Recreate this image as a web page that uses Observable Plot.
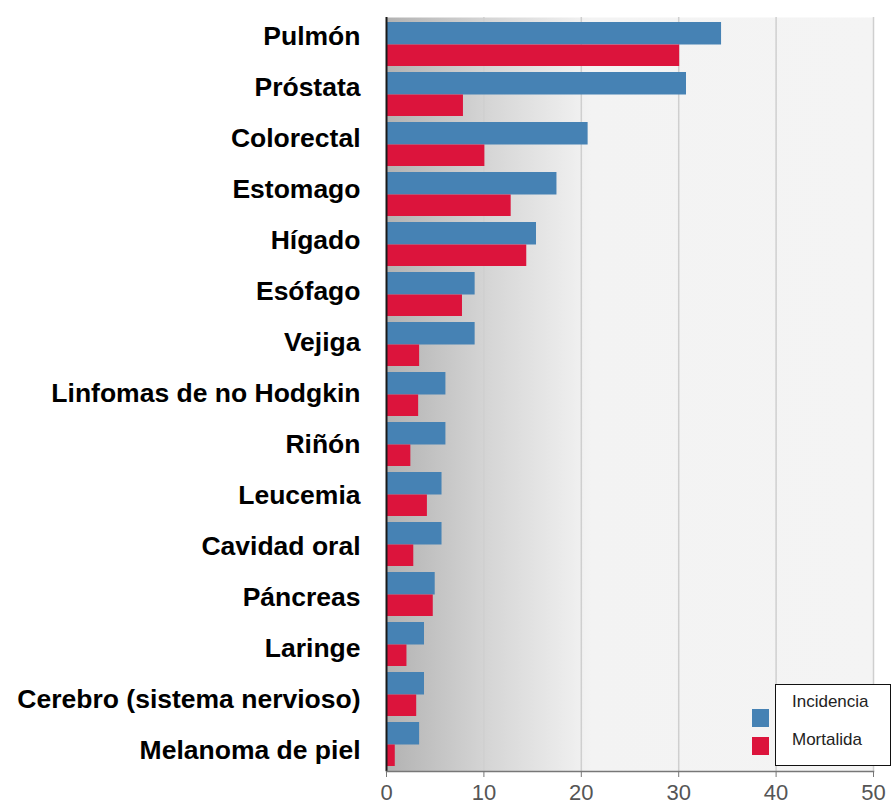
<!DOCTYPE html>
<html>
<head>
<meta charset="utf-8">
<script src="https://cdn.jsdelivr.net/npm/d3@7"></script>
<script src="https://cdn.jsdelivr.net/npm/@observablehq/plot@0.6"></script>
<style>
  html, body { margin: 0; padding: 0; background: #fff; }
  #wrap { position: relative; width: 891px; height: 805px; font-family: "Liberation Sans", Arial, sans-serif; }
  #wrap > svg { position: absolute; left: 0; top: 0; }
  #legend { position: absolute; left: 752px; top: 684px; width: 139px; height: 82px; }
  #legend .box { position: absolute; left: 23px; top: 0; width: 114px; height: 80px; border: 1px solid #111; background: #fff; }
  #legend .sw { position: absolute; left: 0; width: 17px; height: 18px; }
  #legend .lab { position: absolute; left: 40px; font-size: 17px; color: #222; white-space: nowrap; }
</style>
</head>
<body>
<div id="wrap"></div>
<script>
const categories = ["Pulmón", "Próstata", "Colorectal", "Estomago", "Hígado", "Esófago", "Vejiga",
  "Linfomas de no Hodgkin", "Riñón", "Leucemia", "Cavidad oral", "Páncreas", "Laringe",
  "Cerebro (sistema nervioso)", "Melanoma de piel"];
const incidencia = [34.4, 30.8, 20.7, 17.5, 15.4, 9.1, 9.1, 6.1, 6.1, 5.7, 5.7, 5.0, 3.9, 3.9, 3.4];
const mortalidad = [30.1, 7.9, 10.1, 12.8, 14.4, 7.8, 3.4, 3.3, 2.5, 4.2, 2.8, 4.8, 2.1, 3.1, 0.9];
const seriesNames = ["Incidencia", "Mortalida"];
const seriesColors = ["#4682b4", "#dc143c"];
const xTicks = [0, 10, 20, 30, 40, 50];

const inc = categories.map((c, i) => ({cat: c, value: incidencia[i]}));
const mor = categories.map((c, i) => ({cat: c, value: mortalidad[i]}));
const font = "'Liberation Sans', Arial, sans-serif";

const chart = Plot.plot({
  width: 891,
  height: 805,
  marginLeft: 386,
  marginRight: 18,
  marginTop: 17,
  marginBottom: 34,
  style: {fontFamily: font, background: "transparent"},
  x: {domain: [0, 50], ticks: xTicks},
  y: {domain: categories, paddingInner: 0.12, paddingOuter: 0.06, axis: null},
  marks: [
    Plot.frame({fill: "url(#bggrad)", stroke: null}),
    Plot.gridX({ticks: xTicks.slice(1), stroke: "#cfcfcf", strokeOpacity: 1, strokeWidth: 1.5}),
    Plot.barX(inc, {x: "value", y: "cat", fill: seriesColors[0], insetBottom: 21.5}),
    Plot.barX(mor, {x: "value", y: "cat", fill: seriesColors[1], insetTop: 22.5}),
    Plot.ruleX([0], {stroke: "#1a1a1a", strokeWidth: 2}),
    Plot.frame({anchor: "bottom", stroke: "#777", strokeWidth: 1.5}),
    Plot.axisX({ticks: xTicks, tickSize: 6, tickPadding: 7, fontSize: 22, color: "#555", stroke: "#777", label: null})
  ]
});

// gradient background definition
const defs = d3.select(chart).insert("defs", ":first-child");
const grad = defs.append("linearGradient").attr("id", "bggrad").attr("x1", 0).attr("x2", 1).attr("y1", 0).attr("y2", 0);
[[0, "#b2b2b2"], [0.2, "#d4d4d4"], [0.38, "#ededed"], [0.42, "#f3f3f3"], [1, "#f4f4f4"]].forEach(([o, c]) =>
  grad.append("stop").attr("offset", o).attr("stop-color", c));

// category labels (own band scale, as spaced in the original)
const labels = Plot.plot({
  width: 387,
  height: 805,
  marginLeft: 386,
  marginRight: 0,
  marginTop: 8.6,
  marginBottom: 27.4,
  style: {fontFamily: font, background: "transparent"},
  y: {type: "band", domain: categories, padding: 0},
  marks: [
    Plot.axisY({tickSize: 0, tickPadding: 26, fontSize: 26.5, fontWeight: "bold", fill: "#000", label: null})
  ]
});

const wrap = document.getElementById("wrap");
wrap.appendChild(chart);
wrap.appendChild(labels);

// legend
const legend = document.createElement("div");
legend.id = "legend";
legend.innerHTML = `<div class="box"></div>` +
  seriesNames.map((n, i) =>
    `<div class="sw" style="top:${25 + i * 28}px;background:${seriesColors[i]}"></div>` +
    `<div class="lab" style="top:${8 + i * 38}px">${n}</div>`).join("");
wrap.appendChild(legend);
</script>
</body>
</html>
